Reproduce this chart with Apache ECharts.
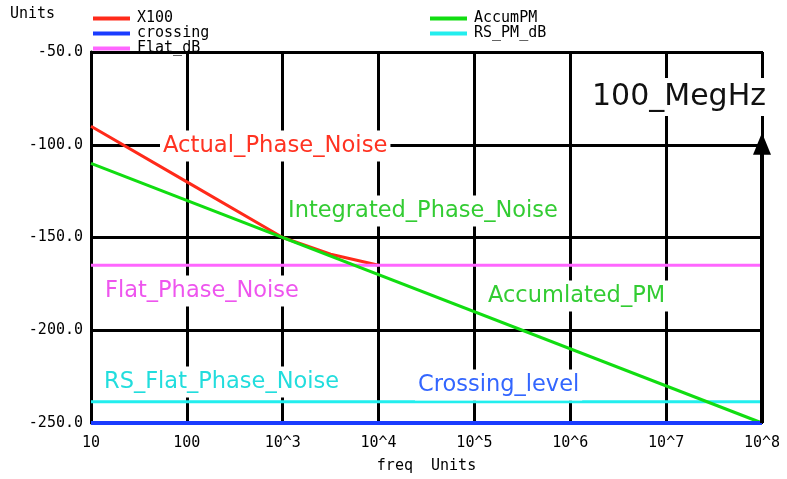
<!DOCTYPE html>
<html><head><meta charset="utf-8">
<script src="https://cdn.jsdelivr.net/npm/echarts@6/dist/echarts.min.js"></script>
<style>html,body{margin:0;padding:0;background:#fff}#c{width:787px;height:479px}</style>
</head><body><div id="c"></div>
<script>
// Data
const x100 = [[10, -90], [100, -120], [1000, -150], [3162, -159], [10000, -165]];
const accumPM = [[10, -110], [1e8, -250]];
const flatDB = [[10, -165], [1e8, -165]];
const rsPMdB = [[10, -238.5], [1e8, -238.5]];
const crossing = [[10, -250], [1e8, -250]];
const marker = [[1e8, -250], [1e8, -100]];
const markerTip = [[1e8, -100]];
const xTickLabels = {1: '10', 2: '100', 3: '10^3', 4: '10^4', 5: '10^5', 6: '10^6', 7: '10^7', 8: '10^8'};
const legendCol1 = ['X100', 'crossing', 'Flat_dB'];
const legendCol2 = ['AccumPM', 'RS_PM_dB'];

const mono = 'DejaVu Sans Mono';
const sans = 'DejaVu Sans';
const chart = echarts.init(document.getElementById('c'));
function lbl(text, left, cy, color, size) {
  return {type: 'text', left: left - 3, top: cy - size * 0.6 - 4, z: 50,
    style: {text: text, fill: color, font: size + 'px "' + sans + '"', backgroundColor: '#fff', padding: [4, 3, 4, 3]}};
}
chart.setOption({
  animation: false,
  backgroundColor: '#fff',
  grid: {left: 91, right: 25, top: 52, bottom: 54, show: true, borderColor: '#000', borderWidth: 2},
  legend: [
    {data: legendCol1, orient: 'vertical', left: 88, top: 6, itemGap: 0, itemWidth: 37, itemHeight: 4, icon: 'rect',
     textStyle: {fontFamily: mono, fontSize: 15, lineHeight: 14.5, color: '#000', padding: [0, 0, 0, 2]}},
    {data: legendCol2, orient: 'vertical', left: 425, top: 6, itemGap: 0, itemWidth: 37, itemHeight: 4, icon: 'rect',
     textStyle: {fontFamily: mono, fontSize: 15, lineHeight: 13, color: '#000', padding: [0, 0, 0, 2]}}
  ],
  xAxis: {type: 'log', logBase: 10, min: 10, max: 1e8,
    axisLine: {show: false}, axisTick: {show: false},
    splitLine: {show: true, lineStyle: {color: '#000', width: 3}},
    minorSplitLine: {show: false},
    axisLabel: {margin: 13, fontFamily: mono, fontSize: 15, color: '#000',
      formatter: v => xTickLabels[Math.round(Math.log10(v))] || ''},
    name: 'freq  Units', nameLocation: 'middle', nameGap: 36,
    nameTextStyle: {fontFamily: mono, fontSize: 15, color: '#000'}},
  yAxis: {type: 'value', min: -250, max: -50, interval: 50,
    axisLine: {show: true, lineStyle: {color: '#000', width: 3}}, axisTick: {show: false},
    splitLine: {show: true, lineStyle: {color: '#000', width: 3}},
    axisLabel: {margin: 8, fontFamily: mono, fontSize: 15, color: '#000', padding: [8, 0, 0, 0], formatter: v => v.toFixed(1)}},
  graphic: [
    {type: 'text', left: 10, top: 7, style: {text: 'Units', fill: '#000', font: '15px "' + mono + '"'}},
    lbl('Actual_Phase_Noise', 163, 148, '#ff3322', 22.7),
    lbl('Integrated_Phase_Noise', 288, 213, '#33cc33', 22.5),
    lbl('Flat_Phase_Noise', 105, 293, '#ee55ee', 22.5),
    lbl('Accumlated_PM', 488, 298, '#33cc33', 22.5),
    lbl('RS_Flat_Phase_Noise', 104, 384, '#22dddd', 22.5),
    lbl('Crossing_level', 418, 387, '#3366ff', 22.5),
    lbl('100_MegHz', 592, 100, '#111', 30)
  ],
  series: [
    {name: 'X100', type: 'line', data: x100, showSymbol: false, lineStyle: {color: '#ff2a1a', width: 3}, itemStyle: {color: '#ff2a1a'}, z: 3},
    {name: 'Flat_dB', type: 'line', data: flatDB, showSymbol: false, lineStyle: {color: '#ff66ff', width: 3}, itemStyle: {color: '#ff66ff'}, z: 4},
    {name: 'RS_PM_dB', type: 'line', data: rsPMdB, showSymbol: false, lineStyle: {color: '#22eeee', width: 3}, itemStyle: {color: '#22eeee'}, z: 3},
    {name: 'AccumPM', type: 'line', data: accumPM, showSymbol: false, lineStyle: {color: '#11dd11', width: 3}, itemStyle: {color: '#11dd11'}, z: 5},
    {name: 'crossing', type: 'line', data: crossing, showSymbol: false, lineStyle: {color: '#1a3cff', width: 4}, itemStyle: {color: '#1a3cff'}, z: 6},
    {name: 'marker', type: 'line', data: marker, showSymbol: false, lineStyle: {color: '#000', width: 4}, itemStyle: {color: '#000'}, z: 7, silent: true},
    {name: 'markerTip', type: 'scatter', data: markerTip, symbol: 'triangle', symbolSize: [18, 22], symbolOffset: [0, -1],
     itemStyle: {color: '#000', opacity: 1}, z: 8, silent: true, clip: false}
  ]
});
</script></body></html>
